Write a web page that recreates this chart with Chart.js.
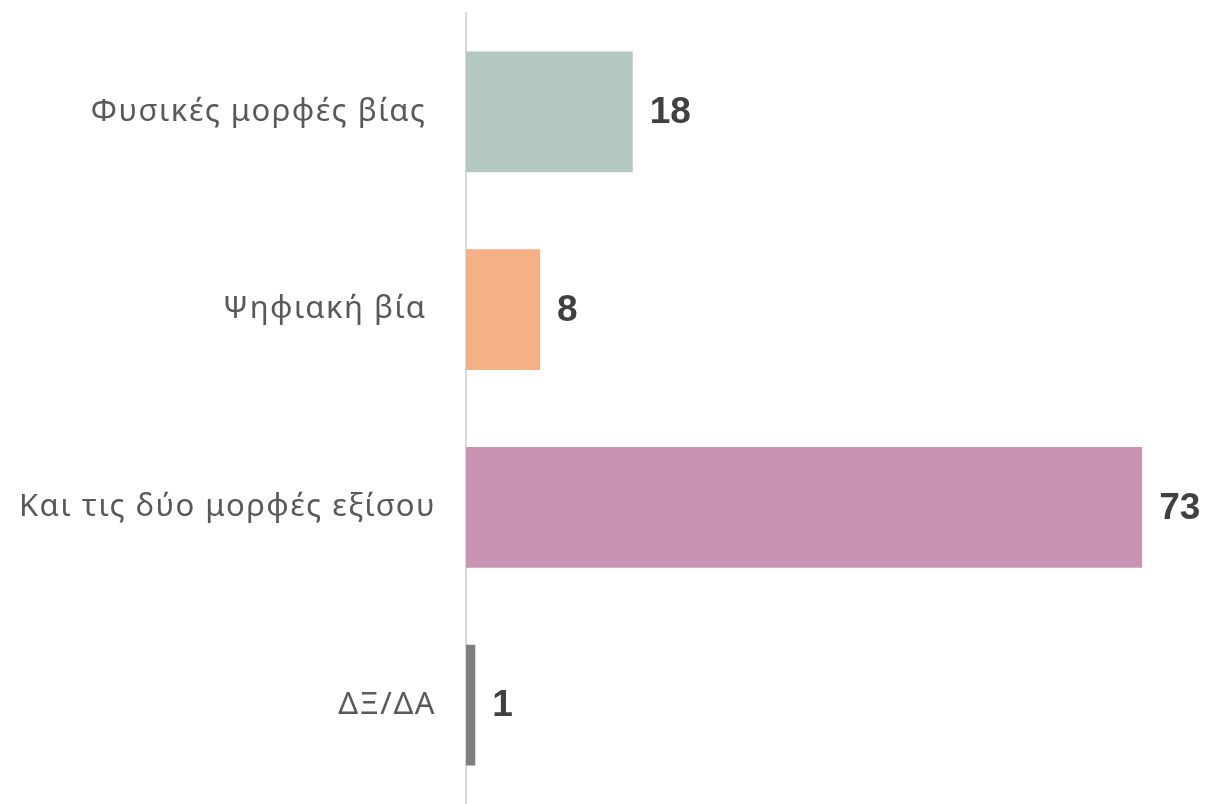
<!DOCTYPE html>
<html>
<head>
<meta charset="utf-8">
<script src="https://cdn.jsdelivr.net/npm/chart.js@4"></script>
<style>
  body { margin: 0; background: #fff; }
</style>
</head>
<body>
<canvas id="myChart" width="1209" height="804"></canvas>
<script>
var categories = ['Φυσικές μορφές βίας ', 'Ψηφιακή βία ', 'Και τις δύο μορφές εξίσου', 'ΔΞ/ΔΑ'];
var values = [18, 8, 73, 1];
var barColors = ['#b3c9bf', '#f4b183', '#c993b4', '#7f7f7f'];

// slightly wider category text, like the original
var spacing = {
    id: 'spacing',
    beforeDraw: function (chart) {
        chart.ctx.letterSpacing = '1.5px';
    }
};

// value labels at the end of each bar
var valueLabels = {
    id: 'valueLabels',
    afterDatasetsDraw: function (chart) {
        var ctx = chart.ctx;
        var meta = chart.getDatasetMeta(0);
        ctx.save();
        ctx.letterSpacing = '0px';
        ctx.font = 'bold 37px "Liberation Sans", Arial, sans-serif';
        ctx.fillStyle = '#404040';
        ctx.textAlign = 'left';
        ctx.textBaseline = 'middle';
        meta.data.forEach(function (bar, i) {
            ctx.fillText(String(values[i]), bar.x + 17, bar.y + 1);
        });
        ctx.restore();
    }
};

var ctx = document.getElementById('myChart').getContext('2d');
var chart = new Chart(ctx, {
    type: 'bar',
    data: {
        labels: categories,
        datasets: [{
            data: values,
            backgroundColor: barColors,
            borderWidth: 0,
            barPercentage: 0.611,
            categoryPercentage: 1
        }]
    },
    options: {
        indexAxis: 'y',
        responsive: false,
        animation: false,
        layout: { padding: { top: 13, right: 2, bottom: 0, left: 0 } },
        plugins: {
            legend: { display: false },
            tooltip: { enabled: false }
        },
        scales: {
            x: {
                display: false,
                min: 0,
                max: 80
            },
            y: {
                afterFit: function (scale) {
                    scale.width = 466;
                    scale.paddingTop = 0;
                    scale.paddingBottom = 0;
                },
                grid: { display: false, drawTicks: false },
                border: { display: true, color: '#d9d9d9', width: 2 },
                ticks: {
                    padding: 30,
                    color: '#595959',
                    font: { family: '"Noto Sans", sans-serif', size: 31 }
                }
            }
        }
    },
    plugins: [spacing, valueLabels]
});
</script>
</body>
</html>
